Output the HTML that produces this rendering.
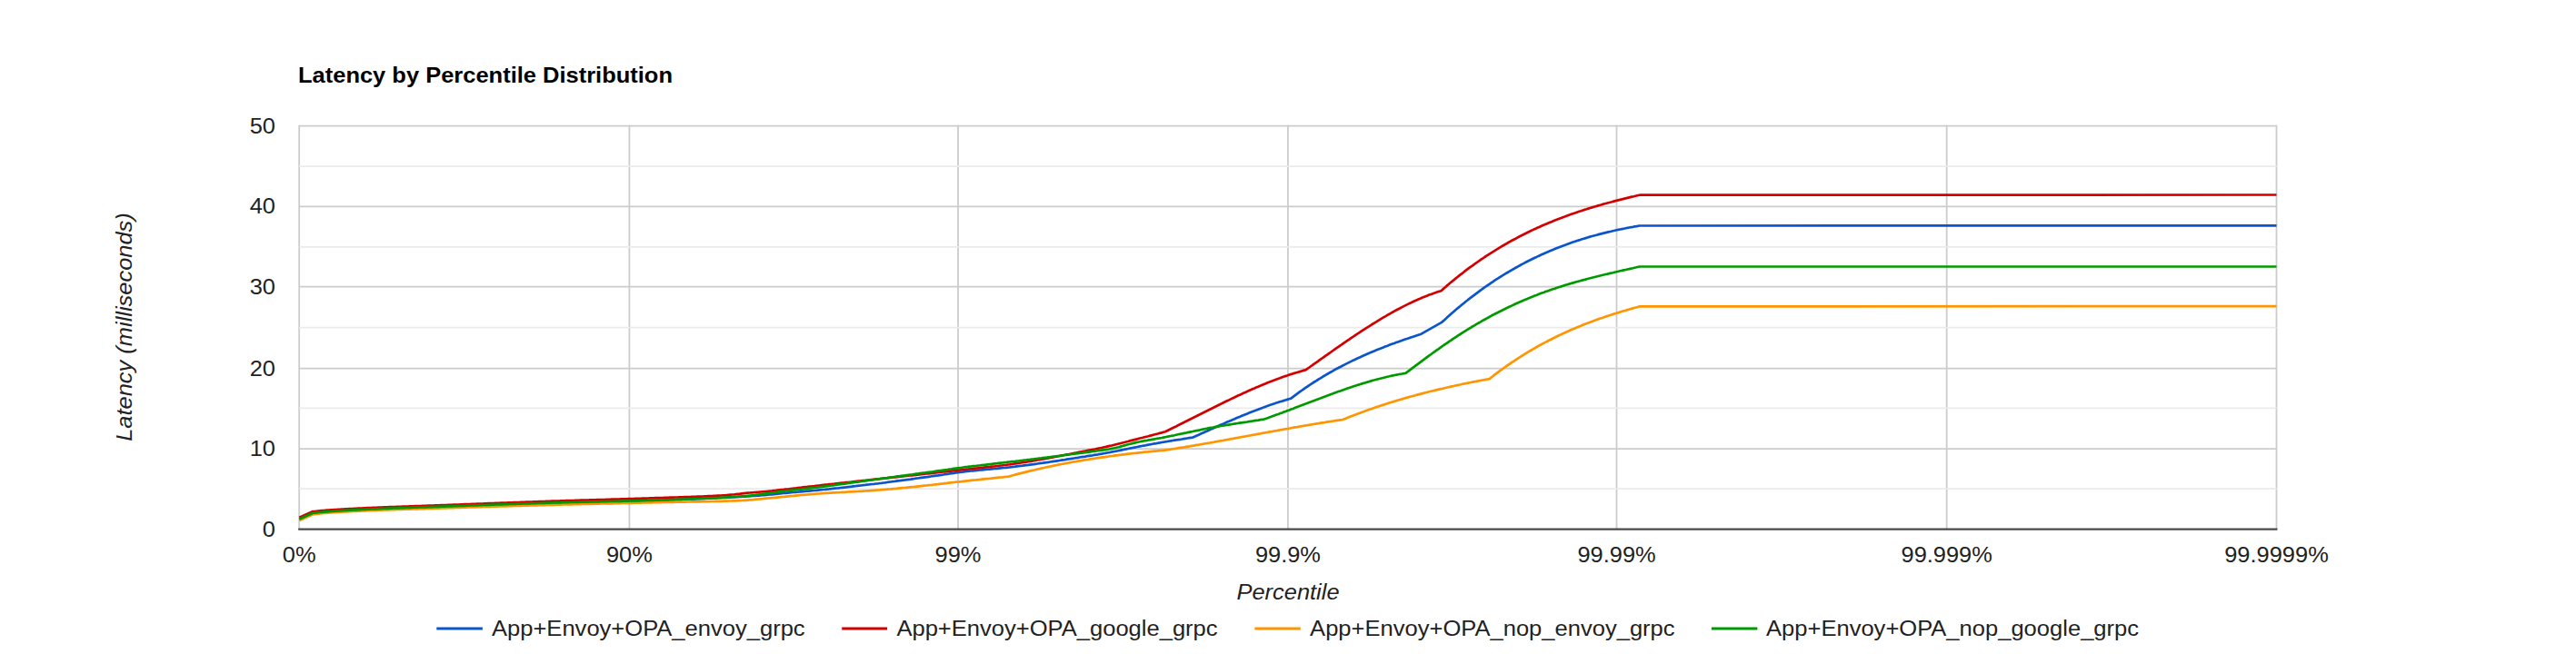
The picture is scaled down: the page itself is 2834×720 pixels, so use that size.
<!DOCTYPE html>
<html><head><meta charset="utf-8"><title>Latency by Percentile Distribution</title>
<style>html,body{margin:0;padding:0;background:#fff;width:2834px;height:720px;overflow:hidden}svg{display:block}</style>
</head><body>
<svg width="2834" height="720" viewBox="0 0 2834 720">
<rect x="0" y="0" width="2834" height="720" fill="#ffffff"/>
<line x1="329.17" y1="137.75" x2="329.17" y2="582.55" stroke="#cccccc" stroke-width="1.8"/>
<line x1="692.4" y1="137.75" x2="692.4" y2="582.55" stroke="#cccccc" stroke-width="1.8"/>
<line x1="1054.03" y1="137.75" x2="1054.03" y2="582.55" stroke="#cccccc" stroke-width="1.8"/>
<line x1="1416.95" y1="137.75" x2="1416.95" y2="582.55" stroke="#cccccc" stroke-width="1.8"/>
<line x1="1778.54" y1="137.75" x2="1778.54" y2="582.55" stroke="#cccccc" stroke-width="1.8"/>
<line x1="2141.7" y1="137.75" x2="2141.7" y2="582.55" stroke="#cccccc" stroke-width="1.8"/>
<line x1="2504.5" y1="137.75" x2="2504.5" y2="582.55" stroke="#cccccc" stroke-width="1.8"/>
<line x1="329.17" y1="538.16" x2="2504.5" y2="538.16" stroke="#ebebeb" stroke-width="1.8"/>
<line x1="329.17" y1="449.38" x2="2504.5" y2="449.38" stroke="#ebebeb" stroke-width="1.8"/>
<line x1="329.17" y1="360.60" x2="2504.5" y2="360.60" stroke="#ebebeb" stroke-width="1.8"/>
<line x1="329.17" y1="271.82" x2="2504.5" y2="271.82" stroke="#ebebeb" stroke-width="1.8"/>
<line x1="329.17" y1="183.04" x2="2504.5" y2="183.04" stroke="#ebebeb" stroke-width="1.8"/>
<line x1="329.17" y1="138.65" x2="2504.5" y2="138.65" stroke="#cccccc" stroke-width="1.8"/>
<line x1="329.17" y1="227.4" x2="2504.5" y2="227.4" stroke="#cccccc" stroke-width="1.8"/>
<line x1="329.17" y1="315.55" x2="2504.5" y2="315.55" stroke="#cccccc" stroke-width="1.8"/>
<line x1="329.17" y1="405.55" x2="2504.5" y2="405.55" stroke="#cccccc" stroke-width="1.8"/>
<line x1="329.17" y1="494.1" x2="2504.5" y2="494.1" stroke="#cccccc" stroke-width="1.8"/>
<line x1="328.17" y1="582.55" x2="2505.5" y2="582.55" stroke="#4a4a4a" stroke-width="2.2"/>
<polyline fill="none" stroke="#0a55cc" stroke-width="2.7" stroke-linejoin="round" points="329.3,571.4 343.7,564.9 345.8,564.7 347.8,564.4 349.9,564.2 351.9,564.0 353.9,563.8 356.0,563.6 358.0,563.4 360.0,563.3 362.0,563.1 364.0,563.0 366.0,562.8 368.0,562.7 370.0,562.6 372.0,562.4 374.0,562.3 376.0,562.2 378.0,562.1 380.0,561.9 382.0,561.8 384.0,561.7 386.0,561.6 388.0,561.5 390.0,561.4 392.0,561.3 394.0,561.2 396.0,561.1 398.0,561.0 400.0,560.9 402.0,560.8 404.0,560.7 406.0,560.6 408.1,560.5 410.1,560.4 412.1,560.3 414.1,560.3 416.2,560.2 418.2,560.1 420.2,560.0 422.2,559.9 424.3,559.8 426.3,559.8 428.3,559.7 430.3,559.6 432.4,559.5 434.4,559.5 436.4,559.4 438.4,559.3 440.5,559.2 442.5,559.2 444.5,559.1 446.5,559.0 448.6,559.0 450.6,558.9 452.6,558.8 454.6,558.7 456.7,558.7 458.7,558.6 460.7,558.5 462.7,558.5 464.8,558.4 466.8,558.3 468.8,558.3 470.8,558.2 472.9,558.1 474.9,558.1 476.9,558.0 478.9,557.9 481.0,557.8 483.0,557.8 485.0,557.7 487.0,557.6 489.0,557.6 491.0,557.5 493.0,557.4 495.0,557.3 497.0,557.3 499.0,557.2 501.0,557.1 503.0,557.1 505.0,557.0 507.0,556.9 509.0,556.8 511.0,556.8 513.0,556.7 515.0,556.6 517.0,556.5 519.0,556.5 521.0,556.4 523.0,556.3 525.0,556.3 527.0,556.2 529.0,556.1 531.0,556.0 533.0,556.0 535.0,555.9 537.0,555.8 539.0,555.8 541.0,555.7 543.0,555.6 545.0,555.5 547.0,555.5 549.0,555.4 551.0,555.3 553.0,555.3 555.0,555.2 557.0,555.1 559.0,555.1 561.0,555.0 563.0,554.9 565.0,554.9 567.0,554.8 569.0,554.7 571.0,554.7 573.0,554.6 575.0,554.5 577.0,554.5 579.0,554.4 581.0,554.3 583.0,554.3 585.0,554.2 587.0,554.1 589.0,554.1 591.0,554.0 593.0,554.0 595.0,553.9 597.0,553.8 599.0,553.8 601.0,553.7 603.0,553.7 605.0,553.6 607.0,553.5 609.0,553.5 611.0,553.4 613.0,553.4 615.0,553.3 617.0,553.3 619.0,553.2 621.0,553.2 623.0,553.1 625.0,553.1 627.0,553.0 629.0,553.0 631.0,552.9 633.0,552.9 635.0,552.8 637.0,552.8 639.0,552.7 641.0,552.7 643.0,552.6 645.0,552.6 647.0,552.5 649.0,552.5 651.0,552.4 653.0,552.4 655.0,552.3 657.0,552.3 659.0,552.3 661.0,552.2 663.0,552.2 665.0,552.1 667.0,552.1 669.0,552.0 671.0,552.0 673.0,551.9 675.0,551.9 677.0,551.8 679.0,551.8 681.0,551.8 683.0,551.7 685.0,551.7 687.0,551.6 689.0,551.6 691.0,551.5 693.0,551.5 695.0,551.4 697.0,551.4 699.0,551.3 701.0,551.3 703.0,551.2 705.0,551.2 707.0,551.1 709.0,551.1 711.0,551.0 713.0,550.9 715.0,550.9 717.0,550.8 719.0,550.8 721.0,550.7 723.0,550.7 725.0,550.6 727.0,550.5 729.1,550.5 731.1,550.4 733.1,550.3 735.2,550.3 737.2,550.2 739.2,550.2 741.2,550.1 743.3,550.0 745.3,549.9 747.3,549.9 749.4,549.8 751.4,549.7 753.4,549.7 755.5,549.6 757.5,549.5 759.5,549.4 761.6,549.4 763.6,549.3 765.6,549.2 767.7,549.1 769.7,549.1 771.7,549.0 773.8,548.9 775.8,548.8 777.8,548.7 779.8,548.6 781.9,548.6 783.9,548.5 785.9,548.4 788.0,548.3 790.0,548.2 792.1,548.1 794.3,548.0 796.4,547.9 798.5,547.8 800.6,547.7 802.8,547.6 804.9,547.5 807.0,547.4 809.2,547.2 811.3,547.1 813.4,547.0 815.5,546.9 817.7,546.7 819.8,546.6 821.9,546.5 824.0,546.3 826.1,546.2 828.2,546.0 830.3,545.9 832.4,545.7 834.5,545.6 836.6,545.4 838.7,545.2 840.8,545.1 842.9,544.9 845.0,544.7 847.2,544.5 849.3,544.3 851.5,544.1 853.6,543.9 855.8,543.7 857.9,543.5 860.1,543.2 862.2,543.0 864.4,542.8 866.5,542.6 868.7,542.4 870.8,542.2 872.9,542.0 875.0,541.8 877.0,541.7 879.1,541.5 881.2,541.3 883.3,541.1 885.4,540.9 887.5,540.7 889.6,540.6 891.7,540.4 893.7,540.2 895.8,540.0 897.9,539.8 900.0,539.6 902.1,539.4 904.1,539.2 906.2,539.0 908.2,538.8 910.3,538.6 912.3,538.4 914.4,538.1 916.5,537.9 918.5,537.7 920.6,537.5 922.6,537.3 924.7,537.0 926.8,536.8 928.8,536.6 930.9,536.4 932.9,536.1 935.0,535.9 937.0,535.7 939.1,535.4 941.2,535.2 943.2,534.9 945.3,534.7 947.3,534.5 949.4,534.2 951.5,534.0 953.5,533.7 955.6,533.5 957.6,533.2 959.7,533.0 961.7,532.8 963.8,532.5 965.8,532.3 967.8,532.0 969.8,531.8 971.8,531.5 973.8,531.3 975.8,531.0 977.8,530.7 979.8,530.5 981.8,530.2 983.9,530.0 985.9,529.7 987.9,529.4 989.9,529.2 991.9,528.9 993.9,528.6 995.9,528.4 997.9,528.1 999.9,527.8 1001.9,527.6 1003.9,527.3 1005.9,527.0 1007.9,526.7 1009.9,526.5 1011.9,526.2 1013.9,525.9 1015.9,525.6 1017.9,525.3 1019.9,525.1 1022.0,524.8 1024.0,524.5 1026.0,524.2 1028.0,523.9 1030.0,523.6 1032.0,523.4 1034.0,523.1 1036.0,522.8 1038.0,522.5 1040.0,522.2 1042.3,521.9 1044.6,521.5 1047.0,521.1 1049.3,520.8 1051.6,520.4 1053.9,520.1 1055.9,519.8 1058.0,519.6 1060.0,519.4 1062.0,519.1 1064.1,518.9 1066.1,518.7 1068.1,518.5 1070.2,518.3 1072.2,518.1 1074.2,517.9 1076.3,517.7 1078.3,517.5 1080.3,517.3 1082.4,517.1 1084.4,516.9 1086.4,516.7 1088.5,516.6 1090.5,516.4 1092.5,516.2 1094.6,516.0 1096.6,515.8 1098.6,515.6 1100.7,515.4 1102.7,515.2 1104.7,515.0 1106.8,514.8 1108.8,514.6 1110.8,514.4 1112.9,514.1 1114.9,513.9 1116.9,513.7 1119.0,513.4 1121.0,513.2 1123.0,512.9 1125.0,512.7 1127.1,512.4 1129.1,512.1 1131.1,511.9 1133.1,511.6 1135.2,511.3 1137.2,511.1 1139.2,510.8 1141.2,510.5 1143.3,510.2 1145.3,509.9 1147.3,509.7 1149.3,509.4 1151.4,509.1 1153.4,508.8 1155.4,508.5 1157.5,508.2 1159.5,507.9 1161.5,507.6 1163.5,507.3 1165.6,507.0 1167.6,506.7 1169.6,506.4 1171.6,506.1 1173.7,505.7 1175.7,505.4 1177.7,505.1 1179.7,504.8 1181.8,504.5 1183.8,504.2 1185.8,503.9 1187.8,503.5 1189.9,503.2 1191.9,502.9 1193.9,502.6 1195.9,502.2 1198.0,501.9 1200.0,501.6 1202.0,501.3 1204.0,500.9 1206.0,500.6 1208.0,500.3 1210.0,499.9 1212.1,499.6 1214.1,499.2 1216.1,498.9 1218.1,498.5 1220.1,498.2 1222.1,497.8 1224.1,497.4 1226.1,497.0 1228.1,496.7 1230.1,496.3 1232.1,495.9 1234.1,495.4 1236.1,495.0 1238.2,494.6 1240.2,494.2 1242.2,493.8 1244.2,493.4 1246.2,493.0 1248.2,492.6 1250.2,492.2 1252.2,491.8 1254.2,491.4 1256.2,491.0 1258.2,490.6 1260.2,490.3 1262.2,489.9 1264.2,489.5 1266.2,489.2 1268.2,488.8 1270.2,488.4 1272.2,488.1 1274.2,487.7 1276.2,487.4 1278.2,487.0 1280.2,486.7 1282.2,486.3 1284.2,486.0 1286.2,485.7 1288.2,485.3 1290.2,485.0 1292.2,484.7 1294.2,484.4 1296.2,484.1 1298.2,483.8 1300.2,483.5 1302.2,483.1 1304.2,482.8 1306.2,482.5 1308.2,482.2 1310.2,481.9 1312.2,481.6 1314.2,480.7 1316.2,479.8 1318.2,478.9 1320.2,478.0 1322.2,477.1 1324.2,476.2 1326.2,475.3 1328.2,474.4 1330.2,473.5 1332.2,472.6 1334.2,471.7 1336.2,470.8 1338.2,469.9 1340.2,469.0 1342.2,468.1 1344.2,467.2 1346.2,466.4 1348.2,465.5 1350.2,464.6 1352.2,463.8 1354.2,462.9 1356.2,462.0 1358.2,461.2 1360.2,460.3 1362.2,459.5 1364.2,458.7 1366.2,457.8 1368.2,457.0 1370.2,456.2 1372.2,455.4 1374.2,454.6 1376.2,453.8 1378.2,453.0 1380.2,452.2 1382.2,451.5 1384.2,450.7 1386.2,449.9 1388.2,449.2 1390.2,448.5 1392.2,447.7 1394.2,447.0 1396.2,446.3 1398.2,445.6 1400.2,444.9 1402.2,444.3 1404.2,443.6 1406.2,442.9 1408.2,442.3 1410.2,441.7 1412.2,441.1 1414.2,440.5 1416.2,439.9 1418.2,439.3 1419.9,438.8 1421.9,437.3 1423.9,435.8 1425.9,434.3 1427.9,432.8 1429.9,431.4 1431.9,430.0 1433.9,428.6 1435.9,427.2 1437.9,425.8 1439.9,424.5 1441.9,423.1 1443.9,421.8 1445.9,420.5 1447.9,419.3 1449.9,418.0 1451.9,416.8 1453.9,415.6 1455.9,414.3 1457.9,413.2 1459.9,412.0 1461.9,410.8 1463.9,409.7 1465.9,408.6 1467.9,407.4 1469.9,406.3 1471.9,405.3 1473.9,404.2 1475.9,403.2 1477.9,402.1 1479.9,401.1 1481.9,400.1 1483.9,399.1 1485.9,398.1 1487.9,397.1 1489.9,396.2 1491.9,395.2 1493.9,394.3 1495.9,393.4 1497.9,392.5 1499.9,391.6 1501.9,390.7 1503.9,389.8 1505.9,388.9 1507.9,388.1 1509.9,387.2 1511.9,386.4 1513.9,385.6 1515.9,384.8 1517.9,384.0 1519.9,383.2 1521.9,382.4 1523.9,381.6 1525.9,380.9 1527.9,380.1 1529.9,379.3 1531.9,378.6 1533.9,377.9 1535.9,377.1 1537.9,376.4 1539.9,375.7 1541.9,375.0 1543.9,374.3 1545.9,373.6 1547.9,372.9 1549.9,372.2 1551.9,371.6 1553.9,370.9 1555.9,370.2 1557.9,369.6 1559.9,368.9 1561.9,368.3 1563.6,367.7 1586.5,354.6 1588.5,352.7 1590.5,350.9 1592.5,349.1 1594.5,347.3 1596.5,345.5 1598.5,343.8 1600.5,342.0 1602.5,340.3 1604.5,338.6 1606.5,337.0 1608.5,335.3 1610.5,333.7 1612.5,332.0 1614.5,330.5 1616.5,328.9 1618.5,327.3 1620.5,325.8 1622.5,324.3 1624.5,322.8 1626.5,321.3 1628.5,319.8 1630.5,318.4 1632.5,316.9 1634.5,315.5 1636.5,314.1 1638.5,312.8 1640.5,311.4 1642.5,310.1 1644.5,308.7 1646.5,307.4 1648.5,306.2 1650.5,304.9 1652.5,303.6 1654.5,302.4 1656.5,301.2 1658.5,300.0 1660.5,298.8 1662.5,297.6 1664.5,296.5 1666.5,295.3 1668.5,294.2 1670.5,293.1 1672.5,292.0 1674.5,290.9 1676.5,289.9 1678.5,288.8 1680.5,287.8 1682.5,286.8 1684.5,285.8 1686.5,284.8 1688.5,283.8 1690.5,282.9 1692.5,281.9 1694.5,281.0 1696.5,280.1 1698.5,279.2 1700.5,278.3 1702.5,277.4 1704.5,276.6 1706.5,275.7 1708.5,274.9 1710.5,274.1 1712.5,273.3 1714.5,272.5 1716.5,271.7 1718.5,270.9 1720.5,270.2 1722.5,269.5 1724.5,268.7 1726.5,268.0 1728.5,267.3 1730.5,266.6 1732.5,265.9 1734.5,265.3 1736.5,264.6 1738.5,264.0 1740.5,263.3 1742.5,262.7 1744.5,262.1 1746.5,261.5 1748.5,260.9 1750.5,260.3 1752.5,259.8 1754.5,259.2 1756.5,258.7 1758.5,258.1 1760.5,257.6 1762.5,257.1 1764.5,256.6 1766.5,256.1 1768.5,255.6 1770.5,255.1 1772.5,254.7 1774.5,254.2 1776.5,253.8 1778.5,253.3 1780.5,252.9 1782.5,252.5 1784.5,252.1 1786.5,251.7 1788.5,251.3 1790.5,250.9 1792.5,250.5 1794.5,250.1 1796.5,249.8 1798.5,249.4 1800.5,249.1 1802.5,248.7 1803.8,248.5 2504.5,248.4"/>
<polyline fill="none" stroke="#d40000" stroke-width="2.7" stroke-linejoin="round" points="329.3,569.7 343.7,563.2 345.8,563.0 347.8,562.8 349.9,562.6 351.9,562.4 353.9,562.2 356.0,562.0 358.0,561.8 360.0,561.7 362.0,561.6 364.0,561.4 366.0,561.3 368.0,561.1 370.0,561.0 372.0,560.9 374.0,560.8 376.0,560.6 378.0,560.5 380.0,560.4 382.0,560.3 384.0,560.2 386.0,560.1 388.0,560.0 390.0,559.9 392.0,559.8 394.0,559.7 396.0,559.6 398.0,559.5 400.0,559.4 402.0,559.3 404.0,559.2 406.0,559.1 408.1,559.0 410.1,558.9 412.1,558.8 414.1,558.8 416.2,558.7 418.2,558.6 420.2,558.5 422.2,558.4 424.3,558.4 426.3,558.3 428.3,558.2 430.3,558.1 432.4,558.1 434.4,558.0 436.4,557.9 438.4,557.8 440.5,557.8 442.5,557.7 444.5,557.6 446.5,557.5 448.6,557.5 450.6,557.4 452.6,557.3 454.6,557.3 456.7,557.2 458.7,557.1 460.7,557.1 462.7,557.0 464.8,556.9 466.8,556.8 468.8,556.8 470.8,556.7 472.9,556.6 474.9,556.6 476.9,556.5 478.9,556.4 481.0,556.3 483.0,556.3 485.0,556.2 487.0,556.1 489.0,556.1 491.0,556.0 493.0,555.9 495.0,555.8 497.0,555.8 499.0,555.7 501.0,555.6 503.0,555.5 505.0,555.5 507.0,555.4 509.0,555.3 511.0,555.2 513.0,555.2 515.0,555.1 517.0,555.0 519.0,554.9 521.0,554.8 523.0,554.8 525.0,554.7 527.0,554.6 529.0,554.5 531.0,554.5 533.0,554.4 535.0,554.3 537.0,554.2 539.0,554.2 541.0,554.1 543.0,554.0 545.0,553.9 547.0,553.9 549.0,553.8 551.0,553.7 553.0,553.6 555.0,553.6 557.0,553.5 559.0,553.4 561.0,553.4 563.0,553.3 565.0,553.2 567.0,553.1 569.0,553.1 571.0,553.0 573.0,552.9 575.0,552.8 577.0,552.8 579.0,552.7 581.0,552.6 583.0,552.6 585.0,552.5 587.0,552.4 589.0,552.3 591.0,552.3 593.0,552.2 595.0,552.1 597.0,552.1 599.0,552.0 601.0,551.9 603.0,551.9 605.0,551.8 607.0,551.7 609.0,551.7 611.0,551.6 613.0,551.5 615.0,551.5 617.0,551.4 619.0,551.3 621.0,551.3 623.0,551.2 625.0,551.2 627.0,551.1 629.0,551.0 631.0,551.0 633.0,550.9 635.0,550.9 637.0,550.8 639.0,550.7 641.0,550.7 643.0,550.6 645.0,550.6 647.0,550.5 649.0,550.4 651.0,550.4 653.0,550.3 655.0,550.3 657.0,550.2 659.0,550.1 661.0,550.1 663.0,550.0 665.0,550.0 667.0,549.9 669.0,549.8 671.0,549.8 673.0,549.7 675.0,549.7 677.0,549.6 679.0,549.6 681.0,549.5 683.0,549.4 685.0,549.4 687.0,549.3 689.0,549.3 691.0,549.2 693.0,549.1 695.0,549.1 697.0,549.0 699.0,548.9 701.0,548.9 703.0,548.8 705.0,548.8 707.0,548.7 709.0,548.6 711.0,548.6 713.0,548.5 715.0,548.4 717.0,548.4 719.0,548.3 721.0,548.2 723.0,548.2 725.0,548.1 727.0,548.0 729.0,548.0 731.0,547.9 733.0,547.8 735.0,547.8 737.1,547.7 739.1,547.6 741.1,547.6 743.1,547.5 745.1,547.5 747.1,547.4 749.1,547.3 751.1,547.3 753.1,547.2 755.1,547.1 757.1,547.1 759.1,547.0 761.2,546.9 763.2,546.9 765.2,546.8 767.2,546.7 769.2,546.6 771.2,546.6 773.2,546.5 775.2,546.4 777.2,546.3 779.2,546.2 781.2,546.1 783.2,546.0 785.3,545.9 787.3,545.8 789.3,545.7 791.3,545.6 793.3,545.5 795.3,545.4 797.4,545.3 799.5,545.1 801.6,544.9 803.7,544.7 805.8,544.5 807.9,544.3 809.9,544.0 812.0,543.8 814.1,543.6 816.2,543.3 818.3,543.1 820.4,542.9 822.5,542.7 824.5,542.5 826.6,542.3 828.6,542.2 830.7,542.0 832.7,541.8 834.8,541.7 836.8,541.5 838.9,541.3 840.9,541.2 843.0,541.0 845.0,540.8 847.1,540.6 849.3,540.4 851.4,540.1 853.5,539.9 855.7,539.6 857.8,539.4 859.8,539.2 861.8,539.0 863.8,538.7 865.8,538.5 867.8,538.3 869.9,538.0 871.9,537.8 873.9,537.6 875.9,537.4 877.9,537.1 879.9,536.9 881.9,536.7 883.9,536.4 885.9,536.2 887.9,536.0 890.0,535.7 892.0,535.5 894.0,535.3 896.0,535.1 898.0,534.8 900.0,534.6 902.0,534.4 904.0,534.1 906.1,533.9 908.1,533.7 910.1,533.5 912.1,533.2 914.2,533.0 916.2,532.8 918.2,532.6 920.2,532.3 922.3,532.1 924.3,531.9 926.3,531.7 928.4,531.5 930.4,531.2 932.4,531.0 934.4,530.8 936.5,530.6 938.5,530.3 940.5,530.1 942.5,529.9 944.6,529.7 946.6,529.5 948.6,529.2 950.6,529.0 952.7,528.8 954.7,528.6 956.7,528.4 958.7,528.1 960.8,527.9 962.8,527.7 964.8,527.5 966.8,527.3 968.9,527.0 970.9,526.8 972.9,526.6 974.9,526.4 977.0,526.2 979.0,525.9 981.0,525.7 983.0,525.5 985.1,525.3 987.1,525.1 989.1,524.8 991.1,524.6 993.2,524.4 995.2,524.2 997.2,524.0 999.2,523.7 1001.3,523.5 1003.3,523.3 1005.3,523.1 1007.3,522.9 1009.4,522.6 1011.4,522.4 1013.4,522.2 1015.4,522.0 1017.5,521.7 1019.5,521.5 1021.5,521.3 1023.5,521.1 1025.6,520.9 1027.6,520.6 1029.6,520.4 1031.6,520.2 1033.7,520.0 1035.7,519.7 1037.7,519.5 1039.7,519.3 1041.8,519.1 1043.8,518.8 1045.8,518.6 1047.8,518.4 1049.9,518.2 1051.9,517.9 1053.9,517.7 1055.9,517.5 1058.0,517.2 1060.0,517.0 1062.0,516.8 1064.1,516.6 1066.1,516.4 1068.1,516.1 1070.2,515.9 1072.2,515.7 1074.2,515.5 1076.3,515.3 1078.3,515.1 1080.3,514.8 1082.4,514.6 1084.4,514.4 1086.4,514.2 1088.5,514.0 1090.5,513.7 1092.5,513.5 1094.6,513.3 1096.6,513.0 1098.6,512.8 1100.7,512.5 1102.7,512.3 1104.7,512.0 1106.8,511.8 1108.8,511.5 1110.8,511.3 1112.9,511.0 1114.9,510.7 1116.9,510.4 1119.0,510.1 1121.0,509.8 1123.0,509.5 1125.0,509.2 1127.1,508.9 1129.1,508.6 1131.1,508.2 1133.2,507.9 1135.2,507.6 1137.2,507.2 1139.3,506.9 1141.3,506.5 1143.3,506.2 1145.3,505.8 1147.4,505.4 1149.4,505.1 1151.4,504.7 1153.5,504.3 1155.5,503.9 1157.5,503.6 1159.6,503.2 1161.6,502.8 1163.6,502.4 1165.6,502.0 1167.7,501.6 1169.7,501.2 1171.7,500.8 1173.8,500.4 1175.8,500.1 1177.8,499.7 1179.9,499.3 1181.9,498.9 1183.9,498.5 1185.9,498.1 1188.0,497.7 1190.0,497.3 1192.1,496.9 1194.1,496.5 1196.2,496.1 1198.3,495.7 1200.3,495.3 1202.4,494.9 1204.5,494.5 1206.5,494.0 1208.6,493.6 1210.6,493.2 1212.7,492.8 1214.8,492.3 1216.8,491.9 1218.9,491.4 1220.9,490.9 1222.9,490.5 1224.9,490.0 1226.9,489.5 1228.9,489.0 1230.9,488.5 1232.9,488.0 1234.9,487.5 1236.9,487.0 1238.9,486.5 1240.9,486.0 1242.9,485.4 1244.9,484.9 1246.9,484.4 1248.9,483.9 1251.0,483.4 1253.0,482.8 1255.1,482.3 1257.2,481.8 1259.2,481.2 1261.3,480.7 1263.4,480.2 1265.5,479.6 1267.5,479.1 1269.6,478.5 1271.7,478.0 1273.7,477.5 1275.8,476.9 1277.9,476.4 1279.9,475.8 1282.0,475.3 1284.0,474.3 1286.0,473.3 1288.0,472.3 1290.0,471.3 1292.0,470.3 1294.0,469.4 1296.0,468.3 1298.0,467.3 1300.0,466.3 1302.0,465.3 1304.0,464.3 1306.0,463.3 1308.0,462.3 1310.0,461.3 1312.0,460.3 1314.0,459.3 1316.0,458.3 1318.0,457.2 1320.0,456.2 1322.0,455.2 1324.0,454.2 1326.0,453.2 1328.0,452.2 1330.0,451.2 1332.0,450.2 1334.0,449.2 1336.0,448.2 1338.0,447.2 1340.0,446.2 1342.0,445.2 1344.0,444.3 1346.0,443.3 1348.0,442.3 1350.0,441.3 1352.0,440.4 1354.0,439.4 1356.0,438.4 1358.0,437.5 1360.0,436.5 1362.0,435.6 1364.0,434.7 1366.0,433.8 1368.0,432.8 1370.0,431.9 1372.0,431.0 1374.0,430.1 1376.0,429.2 1378.0,428.3 1380.0,427.5 1382.0,426.6 1384.0,425.8 1386.0,424.9 1388.0,424.1 1390.0,423.2 1392.0,422.4 1394.0,421.6 1396.0,420.8 1398.0,420.0 1400.0,419.3 1402.0,418.5 1404.0,417.7 1406.0,417.0 1408.0,416.3 1410.0,415.5 1412.0,414.8 1414.0,414.1 1416.0,413.5 1418.0,412.8 1420.0,412.1 1422.0,411.5 1424.0,410.9 1426.0,410.3 1428.0,409.7 1430.0,409.1 1432.0,408.5 1434.0,407.9 1436.0,407.4 1436.4,407.3 1438.4,405.9 1440.4,404.5 1442.4,403.0 1444.4,401.6 1446.4,400.2 1448.4,398.8 1450.4,397.4 1452.4,395.9 1454.4,394.5 1456.4,393.1 1458.4,391.7 1460.4,390.3 1462.4,388.9 1464.4,387.5 1466.4,386.0 1468.4,384.6 1470.4,383.2 1472.4,381.8 1474.4,380.5 1476.4,379.1 1478.4,377.7 1480.4,376.3 1482.4,374.9 1484.4,373.6 1486.4,372.2 1488.4,370.9 1490.4,369.5 1492.4,368.2 1494.4,366.9 1496.4,365.5 1498.4,364.2 1500.4,362.9 1502.4,361.6 1504.4,360.3 1506.4,359.1 1508.4,357.8 1510.4,356.5 1512.4,355.3 1514.4,354.1 1516.4,352.8 1518.4,351.6 1520.4,350.4 1522.4,349.2 1524.4,348.1 1526.4,346.9 1528.4,345.8 1530.4,344.6 1532.4,343.5 1534.4,342.4 1536.4,341.3 1538.4,340.2 1540.4,339.2 1542.4,338.1 1544.4,337.1 1546.4,336.1 1548.4,335.1 1550.4,334.1 1552.4,333.2 1554.4,332.2 1556.4,331.3 1558.4,330.4 1560.4,329.5 1562.4,328.7 1564.4,327.8 1566.4,327.0 1568.4,326.2 1570.4,325.4 1572.4,324.6 1574.4,323.9 1576.4,323.2 1578.4,322.5 1580.4,321.8 1582.4,321.1 1584.4,320.5 1585.4,320.2 1587.4,318.4 1589.4,316.7 1591.4,314.9 1593.4,313.2 1595.4,311.5 1597.4,309.9 1599.4,308.2 1601.4,306.6 1603.4,305.0 1605.4,303.4 1607.4,301.8 1609.4,300.3 1611.4,298.7 1613.4,297.2 1615.4,295.7 1617.4,294.2 1619.4,292.8 1621.4,291.3 1623.4,289.9 1625.4,288.5 1627.4,287.1 1629.4,285.7 1631.4,284.4 1633.4,283.0 1635.4,281.7 1637.4,280.4 1639.4,279.1 1641.4,277.8 1643.4,276.6 1645.4,275.3 1647.4,274.1 1649.4,272.9 1651.4,271.7 1653.4,270.5 1655.4,269.3 1657.4,268.2 1659.4,267.0 1661.4,265.9 1663.4,264.8 1665.4,263.7 1667.4,262.7 1669.4,261.6 1671.4,260.5 1673.4,259.5 1675.4,258.5 1677.4,257.5 1679.4,256.5 1681.4,255.5 1683.4,254.5 1685.4,253.6 1687.4,252.6 1689.4,251.7 1691.4,250.8 1693.4,249.9 1695.4,249.0 1697.4,248.1 1699.4,247.3 1701.4,246.4 1703.4,245.6 1705.4,244.7 1707.4,243.9 1709.4,243.1 1711.4,242.3 1713.4,241.5 1715.4,240.7 1717.4,240.0 1719.4,239.2 1721.4,238.5 1723.4,237.7 1725.4,237.0 1727.4,236.3 1729.4,235.6 1731.4,234.9 1733.4,234.2 1735.4,233.5 1737.4,232.8 1739.4,232.2 1741.4,231.5 1743.4,230.9 1745.4,230.3 1747.4,229.6 1749.4,229.0 1751.4,228.4 1753.4,227.8 1755.4,227.2 1757.4,226.6 1759.4,226.0 1761.4,225.5 1763.4,224.9 1765.4,224.3 1767.4,223.8 1769.4,223.2 1771.4,222.7 1773.4,222.2 1775.4,221.6 1777.4,221.1 1779.4,220.6 1781.4,220.1 1783.4,219.6 1785.4,219.1 1787.4,218.6 1789.4,218.1 1791.4,217.6 1793.4,217.1 1795.4,216.6 1797.4,216.2 1799.4,215.7 1801.4,215.2 1803.4,214.8 1803.8,214.7 2504.5,214.5"/>
<polyline fill="none" stroke="#ff9500" stroke-width="2.7" stroke-linejoin="round" points="329.3,573.0 343.7,566.4 345.8,566.2 347.8,565.9 349.9,565.7 351.9,565.4 353.9,565.2 356.0,565.0 358.0,564.8 360.0,564.7 362.0,564.5 364.0,564.4 366.0,564.2 368.0,564.1 370.0,564.0 372.0,563.8 374.0,563.7 376.0,563.6 378.0,563.5 380.0,563.4 382.0,563.3 384.0,563.2 386.0,563.1 388.0,563.0 390.0,562.9 392.0,562.8 394.0,562.7 396.0,562.6 398.0,562.5 400.0,562.4 402.0,562.3 404.0,562.2 406.0,562.1 408.1,562.0 410.1,562.0 412.1,561.9 414.1,561.8 416.2,561.7 418.2,561.6 420.2,561.6 422.2,561.5 424.3,561.4 426.3,561.3 428.3,561.3 430.3,561.2 432.4,561.1 434.4,561.1 436.4,561.0 438.4,560.9 440.5,560.9 442.5,560.8 444.5,560.7 446.5,560.7 448.6,560.6 450.6,560.6 452.6,560.5 454.6,560.4 456.7,560.4 458.7,560.3 460.7,560.2 462.7,560.2 464.8,560.1 466.8,560.1 468.8,560.0 470.8,559.9 472.9,559.9 474.9,559.8 476.9,559.8 478.9,559.7 481.0,559.6 483.0,559.6 485.0,559.5 487.0,559.4 489.0,559.4 491.0,559.3 493.0,559.2 495.0,559.2 497.0,559.1 499.0,559.1 501.0,559.0 503.0,558.9 505.0,558.9 507.0,558.8 509.0,558.7 511.0,558.7 513.0,558.6 515.0,558.5 517.0,558.5 519.0,558.4 521.0,558.4 523.0,558.3 525.0,558.2 527.0,558.2 529.0,558.1 531.0,558.0 533.0,558.0 535.0,557.9 537.0,557.9 539.0,557.8 541.0,557.7 543.0,557.7 545.0,557.6 547.0,557.6 549.0,557.5 551.0,557.4 553.0,557.4 555.0,557.3 557.0,557.3 559.0,557.2 561.0,557.1 563.0,557.1 565.0,557.0 567.0,557.0 569.0,556.9 571.0,556.8 573.0,556.8 575.0,556.7 577.0,556.7 579.0,556.6 581.0,556.6 583.0,556.5 585.0,556.4 587.0,556.4 589.0,556.3 591.0,556.3 593.0,556.2 595.0,556.2 597.0,556.1 599.0,556.1 601.0,556.0 603.0,556.0 605.0,555.9 607.0,555.8 609.0,555.8 611.0,555.7 613.0,555.7 615.0,555.6 617.0,555.6 619.0,555.5 621.0,555.5 623.0,555.4 625.0,555.4 627.0,555.3 629.0,555.3 631.0,555.2 633.0,555.2 635.0,555.1 637.0,555.1 639.0,555.1 641.0,555.0 643.0,555.0 645.0,554.9 647.0,554.9 649.0,554.8 651.0,554.8 653.0,554.7 655.0,554.7 657.0,554.6 659.0,554.6 661.0,554.5 663.0,554.5 665.0,554.4 667.0,554.4 669.0,554.4 671.0,554.3 673.0,554.3 675.0,554.2 677.0,554.2 679.0,554.1 681.0,554.1 683.0,554.0 685.0,554.0 687.0,554.0 689.0,553.9 691.0,553.9 693.0,553.8 695.0,553.8 697.0,553.7 699.0,553.7 701.0,553.6 703.0,553.6 705.0,553.6 707.0,553.5 709.0,553.5 711.0,553.4 713.0,553.4 715.0,553.3 717.0,553.3 719.0,553.2 721.0,553.2 723.0,553.1 725.0,553.1 727.0,553.1 729.1,553.0 731.1,553.0 733.1,552.9 735.1,552.9 737.2,552.8 739.2,552.8 741.2,552.8 743.3,552.7 745.3,552.7 747.3,552.7 749.4,552.6 751.4,552.6 753.4,552.6 755.4,552.5 757.5,552.5 759.5,552.5 761.5,552.4 763.6,552.4 765.6,552.4 767.6,552.3 769.6,552.3 771.7,552.2 773.7,552.2 775.7,552.2 777.8,552.1 779.8,552.1 781.8,552.0 783.9,552.0 785.9,552.0 787.9,551.9 789.9,551.9 792.0,551.8 794.0,551.8 796.0,551.7 798.1,551.6 800.1,551.6 802.1,551.5 804.2,551.5 806.2,551.4 808.2,551.3 810.2,551.3 812.3,551.2 814.3,551.1 816.3,551.0 818.4,550.9 820.4,550.8 822.5,550.6 824.5,550.4 826.6,550.3 828.6,550.1 830.7,549.9 832.7,549.7 834.8,549.5 836.8,549.3 838.9,549.1 840.9,548.9 843.0,548.7 845.0,548.5 847.0,548.3 849.1,548.1 851.1,548.0 853.1,547.8 855.2,547.6 857.2,547.4 859.3,547.2 861.3,547.0 863.3,546.8 865.4,546.6 867.4,546.4 869.4,546.2 871.5,546.0 873.5,545.8 875.6,545.6 877.6,545.4 879.6,545.2 881.7,545.0 883.7,544.8 885.7,544.7 887.8,544.5 889.8,544.3 891.9,544.1 893.9,544.0 895.9,543.8 898.0,543.7 900.0,543.5 902.1,543.4 904.1,543.2 906.2,543.1 908.2,542.9 910.3,542.8 912.3,542.7 914.4,542.6 916.5,542.4 918.5,542.3 920.6,542.2 922.6,542.1 924.7,542.0 926.8,541.9 928.8,541.8 930.9,541.7 932.9,541.5 935.0,541.4 937.0,541.3 939.1,541.2 941.2,541.1 943.2,541.0 945.3,540.9 947.3,540.8 949.4,540.6 951.5,540.5 953.5,540.4 955.6,540.3 957.6,540.1 959.7,540.0 961.7,539.8 963.8,539.7 965.9,539.5 967.9,539.4 970.0,539.2 972.0,539.1 974.1,538.9 976.2,538.7 978.2,538.5 980.3,538.4 982.3,538.2 984.4,538.0 986.5,537.8 988.5,537.6 990.6,537.4 992.6,537.2 994.7,537.0 996.8,536.8 998.8,536.6 1000.9,536.4 1002.9,536.2 1005.0,536.0 1007.0,535.8 1009.1,535.6 1011.1,535.4 1013.1,535.2 1015.2,534.9 1017.2,534.7 1019.3,534.5 1021.3,534.2 1023.3,534.0 1025.4,533.8 1027.4,533.5 1029.5,533.3 1031.5,533.1 1033.5,532.8 1035.6,532.6 1037.6,532.4 1039.6,532.1 1041.7,531.9 1043.7,531.6 1045.8,531.4 1047.8,531.2 1049.8,531.0 1051.9,530.7 1053.9,530.5 1056.0,530.3 1058.0,530.1 1060.1,529.8 1062.2,529.6 1064.2,529.4 1066.3,529.2 1068.3,528.9 1070.4,528.7 1072.5,528.5 1074.5,528.3 1076.6,528.1 1078.7,527.9 1080.7,527.6 1082.8,527.4 1084.8,527.2 1086.9,527.0 1089.0,526.8 1091.0,526.6 1093.1,526.3 1095.2,526.1 1097.2,525.9 1099.3,525.7 1101.3,525.5 1103.4,525.3 1105.5,525.0 1107.5,524.8 1109.6,524.6 1111.6,524.1 1113.6,523.5 1115.6,523.0 1117.6,522.4 1119.6,521.9 1121.6,521.4 1123.6,520.9 1125.6,520.4 1127.6,519.9 1129.6,519.4 1131.6,518.9 1133.6,518.4 1135.6,517.9 1137.6,517.5 1139.6,517.0 1141.6,516.5 1143.6,516.1 1145.6,515.6 1147.6,515.2 1149.6,514.8 1151.6,514.3 1153.6,513.9 1155.6,513.5 1157.6,513.1 1159.6,512.6 1161.6,512.2 1163.6,511.8 1165.6,511.4 1167.6,511.0 1169.6,510.7 1171.6,510.3 1173.6,509.9 1175.6,509.5 1177.6,509.2 1179.6,508.8 1181.6,508.4 1183.6,508.1 1185.6,507.7 1187.6,507.4 1189.6,507.1 1191.6,506.7 1193.6,506.4 1195.6,506.1 1197.6,505.8 1199.6,505.4 1201.6,505.1 1203.6,504.8 1205.6,504.5 1207.6,504.2 1209.6,503.9 1211.6,503.6 1213.6,503.3 1215.6,503.1 1217.6,502.8 1219.6,502.5 1221.6,502.2 1223.6,502.0 1225.6,501.7 1227.6,501.4 1229.6,501.2 1231.6,500.9 1233.6,500.7 1235.6,500.4 1237.6,500.2 1239.6,499.9 1241.6,499.7 1243.6,499.5 1245.6,499.2 1247.6,499.0 1249.6,498.8 1251.6,498.6 1253.6,498.4 1255.6,498.2 1257.6,497.9 1259.6,497.7 1261.6,497.5 1263.6,497.3 1265.6,497.1 1267.6,496.9 1269.6,496.7 1271.6,496.6 1273.6,496.4 1275.6,496.2 1277.6,496.0 1279.6,495.8 1281.0,495.7 1283.0,495.4 1285.0,495.1 1287.0,494.8 1289.0,494.5 1291.0,494.2 1293.0,493.9 1295.0,493.5 1297.0,493.2 1299.0,492.9 1301.0,492.6 1303.0,492.3 1305.0,491.9 1307.0,491.6 1309.0,491.3 1311.0,490.9 1313.0,490.6 1315.0,490.2 1317.0,489.9 1319.0,489.6 1321.0,489.2 1323.0,488.9 1325.0,488.5 1327.0,488.2 1329.0,487.8 1331.0,487.5 1333.0,487.1 1335.0,486.8 1337.0,486.4 1339.0,486.0 1341.0,485.7 1343.0,485.3 1345.0,485.0 1347.0,484.6 1349.0,484.2 1351.0,483.9 1353.0,483.5 1355.0,483.1 1357.0,482.8 1359.0,482.4 1361.0,482.0 1363.0,481.7 1365.0,481.3 1367.0,480.9 1369.0,480.6 1371.0,480.2 1373.0,479.8 1375.0,479.5 1377.0,479.1 1379.0,478.7 1381.0,478.4 1383.0,478.0 1385.0,477.6 1387.0,477.3 1389.0,476.9 1391.0,476.5 1393.0,476.2 1395.0,475.8 1397.0,475.4 1399.0,475.1 1401.0,474.7 1403.0,474.3 1405.0,474.0 1407.0,473.6 1409.0,473.2 1411.0,472.9 1413.0,472.5 1415.0,472.2 1417.0,471.8 1419.0,471.5 1421.0,471.1 1423.0,470.7 1425.0,470.4 1427.0,470.1 1429.0,469.7 1431.0,469.4 1433.0,469.0 1435.0,468.7 1437.0,468.3 1439.0,468.0 1441.0,467.7 1443.0,467.3 1445.0,467.0 1447.0,466.7 1449.0,466.3 1451.0,466.0 1453.0,465.7 1455.0,465.4 1457.0,465.1 1459.0,464.7 1461.0,464.4 1463.0,464.1 1465.0,463.8 1467.0,463.5 1469.0,463.2 1471.0,462.9 1473.0,462.6 1475.0,462.3 1477.0,462.0 1477.2,462.0 1479.2,461.2 1481.2,460.4 1483.2,459.6 1485.2,458.8 1487.2,458.0 1489.2,457.2 1491.2,456.5 1493.2,455.7 1495.2,455.0 1497.2,454.2 1499.2,453.5 1501.2,452.7 1503.2,452.0 1505.2,451.3 1507.2,450.6 1509.2,449.9 1511.2,449.2 1513.2,448.5 1515.2,447.9 1517.2,447.2 1519.2,446.5 1521.2,445.9 1523.2,445.2 1525.2,444.6 1527.2,443.9 1529.2,443.3 1531.2,442.7 1533.2,442.1 1535.2,441.5 1537.2,440.9 1539.2,440.3 1541.2,439.7 1543.2,439.1 1545.2,438.5 1547.2,437.9 1549.2,437.4 1551.2,436.8 1553.2,436.3 1555.2,435.7 1557.2,435.2 1559.2,434.6 1561.2,434.1 1563.2,433.6 1565.2,433.1 1567.2,432.5 1569.2,432.0 1571.2,431.5 1573.2,431.0 1575.2,430.5 1577.2,430.0 1579.2,429.6 1581.2,429.1 1583.2,428.6 1585.2,428.1 1587.2,427.7 1589.2,427.2 1591.2,426.8 1593.2,426.3 1595.2,425.9 1597.2,425.4 1599.2,425.0 1601.2,424.5 1603.2,424.1 1605.2,423.7 1607.2,423.3 1609.2,422.8 1611.2,422.4 1613.2,422.0 1615.2,421.6 1617.2,421.2 1619.2,420.8 1621.2,420.4 1623.2,420.0 1625.2,419.6 1627.2,419.2 1629.2,418.9 1631.2,418.5 1633.2,418.1 1635.2,417.7 1637.2,417.4 1638.6,417.1 1640.6,415.5 1642.6,414.0 1644.6,412.4 1646.6,410.9 1648.6,409.4 1650.6,407.9 1652.6,406.5 1654.6,405.0 1656.6,403.6 1658.6,402.2 1660.6,400.8 1662.6,399.4 1664.6,398.1 1666.6,396.8 1668.6,395.4 1670.6,394.1 1672.6,392.9 1674.6,391.6 1676.6,390.3 1678.6,389.1 1680.6,387.9 1682.6,386.7 1684.6,385.5 1686.6,384.3 1688.6,383.2 1690.6,382.0 1692.6,380.9 1694.6,379.8 1696.6,378.7 1698.6,377.6 1700.6,376.6 1702.6,375.5 1704.6,374.5 1706.6,373.5 1708.6,372.5 1710.6,371.5 1712.6,370.5 1714.6,369.5 1716.6,368.6 1718.6,367.6 1720.6,366.7 1722.6,365.8 1724.6,364.9 1726.6,364.0 1728.6,363.1 1730.6,362.2 1732.6,361.4 1734.6,360.6 1736.6,359.7 1738.6,358.9 1740.6,358.1 1742.6,357.3 1744.6,356.5 1746.6,355.7 1748.6,355.0 1750.6,354.2 1752.6,353.5 1754.6,352.7 1756.6,352.0 1758.6,351.3 1760.6,350.6 1762.6,349.9 1764.6,349.2 1766.6,348.5 1768.6,347.9 1770.6,347.2 1772.6,346.6 1774.6,345.9 1776.6,345.3 1778.6,344.7 1780.6,344.1 1782.6,343.4 1784.6,342.8 1786.6,342.2 1788.6,341.7 1790.6,341.1 1792.6,340.5 1794.6,339.9 1796.6,339.4 1798.6,338.8 1800.6,338.3 1802.6,337.7 1803.8,337.4 2504.5,337.1"/>
<polyline fill="none" stroke="#009a00" stroke-width="2.7" stroke-linejoin="round" points="329.3,571.4 343.7,564.9 345.8,564.7 347.8,564.4 349.9,564.2 351.9,564.0 353.9,563.8 356.0,563.6 358.0,563.4 360.0,563.3 362.0,563.1 364.0,563.0 366.0,562.8 368.0,562.7 370.0,562.6 372.0,562.4 374.0,562.3 376.0,562.2 378.0,562.1 380.0,561.9 382.0,561.8 384.0,561.7 386.0,561.6 388.0,561.5 390.0,561.4 392.0,561.3 394.0,561.2 396.0,561.1 398.0,561.0 400.0,560.9 402.0,560.8 404.0,560.7 406.0,560.6 408.1,560.5 410.1,560.4 412.1,560.3 414.1,560.3 416.2,560.2 418.2,560.1 420.2,560.0 422.2,559.9 424.3,559.8 426.3,559.8 428.3,559.7 430.3,559.6 432.4,559.5 434.4,559.5 436.4,559.4 438.4,559.3 440.5,559.2 442.5,559.2 444.5,559.1 446.5,559.0 448.6,559.0 450.6,558.9 452.6,558.8 454.6,558.7 456.7,558.7 458.7,558.6 460.7,558.5 462.7,558.5 464.8,558.4 466.8,558.3 468.8,558.3 470.8,558.2 472.9,558.1 474.9,558.1 476.9,558.0 478.9,557.9 481.0,557.8 483.0,557.8 485.0,557.7 487.0,557.6 489.0,557.6 491.0,557.5 493.0,557.4 495.0,557.3 497.0,557.3 499.0,557.2 501.0,557.1 503.0,557.1 505.0,557.0 507.0,556.9 509.0,556.8 511.0,556.8 513.0,556.7 515.0,556.6 517.0,556.5 519.0,556.5 521.0,556.4 523.0,556.3 525.0,556.3 527.0,556.2 529.0,556.1 531.0,556.0 533.0,556.0 535.0,555.9 537.0,555.8 539.0,555.8 541.0,555.7 543.0,555.6 545.0,555.5 547.0,555.5 549.0,555.4 551.0,555.3 553.0,555.3 555.0,555.2 557.0,555.1 559.0,555.1 561.0,555.0 563.0,554.9 565.0,554.9 567.0,554.8 569.0,554.7 571.0,554.7 573.0,554.6 575.0,554.5 577.0,554.5 579.0,554.4 581.0,554.3 583.0,554.3 585.0,554.2 587.0,554.1 589.0,554.1 591.0,554.0 593.0,554.0 595.0,553.9 597.0,553.8 599.0,553.8 601.0,553.7 603.0,553.7 605.0,553.6 607.0,553.5 609.0,553.5 611.0,553.4 613.0,553.4 615.0,553.3 617.0,553.3 619.0,553.2 621.0,553.2 623.0,553.1 625.0,553.1 627.0,553.0 629.0,553.0 631.0,552.9 633.0,552.9 635.0,552.8 637.0,552.8 639.0,552.7 641.0,552.7 643.0,552.6 645.0,552.6 647.0,552.6 649.0,552.5 651.0,552.5 653.0,552.4 655.0,552.4 657.0,552.3 659.0,552.3 661.0,552.2 663.0,552.2 665.0,552.2 667.0,552.1 669.0,552.1 671.0,552.0 673.0,552.0 675.0,551.9 677.0,551.9 679.0,551.8 681.0,551.8 683.0,551.8 685.0,551.7 687.0,551.7 689.0,551.6 691.0,551.6 693.0,551.5 695.0,551.5 697.0,551.4 699.0,551.4 701.0,551.3 703.0,551.3 705.0,551.2 707.0,551.1 709.0,551.1 711.0,551.0 713.0,551.0 715.0,550.9 717.0,550.9 719.0,550.8 721.0,550.7 723.0,550.7 725.0,550.6 727.0,550.5 729.1,550.5 731.1,550.4 733.1,550.3 735.1,550.3 737.2,550.2 739.2,550.1 741.2,550.1 743.3,550.0 745.3,549.9 747.3,549.8 749.4,549.8 751.4,549.7 753.4,549.6 755.4,549.5 757.5,549.5 759.5,549.4 761.5,549.3 763.6,549.2 765.6,549.1 767.6,549.0 769.6,549.0 771.7,548.9 773.7,548.8 775.7,548.7 777.8,548.6 779.8,548.5 781.8,548.4 783.9,548.3 785.9,548.2 787.9,548.1 789.9,548.0 792.0,547.9 794.0,547.8 796.0,547.7 798.1,547.5 800.1,547.4 802.1,547.3 804.2,547.2 806.2,547.0 808.2,546.9 810.2,546.8 812.3,546.6 814.3,546.5 816.3,546.3 818.4,546.2 820.4,546.0 822.5,545.8 824.5,545.6 826.6,545.4 828.6,545.1 830.7,544.9 832.7,544.6 834.8,544.4 836.8,544.1 838.9,543.9 840.9,543.6 843.0,543.3 845.0,543.1 847.2,542.8 849.3,542.6 851.5,542.3 853.6,542.0 855.8,541.7 857.9,541.4 860.1,541.1 862.2,540.8 864.4,540.5 866.5,540.3 868.7,540.0 870.8,539.7 872.9,539.5 875.0,539.3 877.0,539.0 879.1,538.8 881.2,538.6 883.3,538.3 885.4,538.1 887.5,537.9 889.6,537.6 891.7,537.4 893.7,537.1 895.8,536.9 897.9,536.7 900.0,536.4 902.1,536.1 904.1,535.9 906.2,535.6 908.2,535.4 910.3,535.1 912.3,534.8 914.4,534.5 916.5,534.3 918.5,534.0 920.6,533.7 922.6,533.4 924.7,533.2 926.8,532.9 928.8,532.6 930.9,532.3 932.9,532.0 935.0,531.7 937.0,531.4 939.1,531.1 941.2,530.9 943.2,530.6 945.3,530.3 947.3,530.0 949.4,529.7 951.5,529.4 953.5,529.1 955.6,528.8 957.6,528.5 959.7,528.3 961.7,528.0 963.8,527.7 965.8,527.4 967.8,527.2 969.8,526.9 971.8,526.6 973.8,526.3 975.8,526.1 977.8,525.8 979.8,525.5 981.8,525.3 983.9,525.0 985.9,524.7 987.9,524.4 989.9,524.2 991.9,523.9 993.9,523.6 995.9,523.4 997.9,523.1 999.9,522.8 1001.9,522.5 1003.9,522.3 1005.9,522.0 1007.9,521.7 1009.9,521.5 1011.9,521.2 1013.9,520.9 1015.9,520.6 1017.9,520.4 1019.9,520.1 1022.0,519.8 1024.0,519.5 1026.0,519.3 1028.0,519.0 1030.0,518.7 1032.0,518.4 1034.0,518.1 1036.0,517.9 1038.0,517.6 1040.0,517.3 1042.3,517.0 1044.6,516.6 1047.0,516.3 1049.3,515.9 1051.6,515.6 1053.9,515.3 1055.9,515.0 1058.0,514.8 1060.0,514.5 1062.0,514.2 1064.1,514.0 1066.1,513.7 1068.2,513.5 1070.2,513.2 1072.2,513.0 1074.3,512.8 1076.3,512.5 1078.3,512.3 1080.4,512.0 1082.4,511.8 1084.5,511.6 1086.5,511.3 1088.5,511.1 1090.6,510.9 1092.6,510.6 1094.6,510.4 1096.7,510.2 1098.7,509.9 1100.7,509.7 1102.8,509.5 1104.8,509.2 1106.9,509.0 1108.9,508.7 1110.9,508.5 1113.0,508.2 1115.0,508.0 1117.0,507.8 1119.0,507.5 1121.1,507.3 1123.1,507.0 1125.1,506.8 1127.1,506.5 1129.2,506.3 1131.2,506.0 1133.2,505.8 1135.2,505.5 1137.3,505.3 1139.3,505.0 1141.3,504.8 1143.3,504.5 1145.4,504.3 1147.4,504.0 1149.4,503.8 1151.4,503.6 1153.5,503.3 1155.5,503.1 1157.5,502.8 1159.5,502.5 1161.5,502.3 1163.6,502.0 1165.6,501.8 1167.6,501.5 1169.6,501.3 1171.7,501.0 1173.7,500.8 1175.7,500.5 1177.7,500.2 1179.8,500.0 1181.8,499.7 1183.8,499.5 1185.8,499.2 1187.9,498.9 1189.9,498.7 1191.9,498.4 1193.9,498.1 1196.0,497.8 1198.0,497.6 1200.0,497.3 1202.0,497.0 1204.0,496.8 1206.0,496.5 1208.0,496.2 1210.0,496.0 1212.1,495.7 1214.1,495.4 1216.1,495.1 1218.1,494.8 1220.1,494.5 1222.1,494.1 1224.2,493.7 1226.4,493.2 1228.5,492.7 1230.7,492.2 1232.8,491.6 1235.0,491.0 1237.1,490.4 1239.3,489.8 1241.4,489.2 1243.6,488.7 1245.7,488.1 1247.9,487.6 1250.0,487.1 1252.0,486.7 1254.0,486.3 1256.0,485.9 1258.0,485.5 1260.0,485.1 1262.0,484.8 1264.0,484.4 1266.0,484.1 1268.0,483.7 1270.0,483.4 1272.0,483.0 1274.0,482.7 1276.0,482.3 1278.0,482.0 1280.0,481.6 1282.0,481.2 1284.0,480.8 1286.0,480.4 1288.0,480.0 1290.0,479.6 1292.0,479.2 1294.0,478.7 1296.0,478.3 1298.0,477.9 1300.0,477.5 1302.0,477.1 1304.1,476.7 1306.1,476.2 1308.2,475.8 1310.2,475.4 1312.2,475.0 1314.3,474.5 1316.3,474.1 1318.3,473.7 1320.4,473.3 1322.4,472.8 1324.5,472.4 1326.5,472.0 1328.5,471.6 1330.6,471.2 1332.6,470.8 1334.7,470.5 1336.7,470.1 1338.8,469.7 1340.8,469.4 1342.9,469.0 1345.0,468.7 1347.0,468.3 1349.1,468.0 1351.2,467.7 1353.3,467.3 1355.3,467.0 1357.4,466.7 1359.5,466.3 1361.5,466.0 1363.6,465.7 1365.7,465.4 1367.7,465.1 1369.8,464.8 1371.9,464.5 1373.9,464.1 1376.0,463.8 1378.1,463.5 1380.2,463.2 1382.2,462.9 1384.3,462.6 1386.4,462.2 1388.4,461.9 1390.5,461.6 1392.5,460.9 1394.5,460.2 1396.5,459.5 1398.5,458.8 1400.5,458.1 1402.5,457.3 1404.5,456.6 1406.5,455.9 1408.5,455.1 1410.5,454.4 1412.5,453.6 1414.5,452.9 1416.5,452.1 1418.5,451.4 1420.5,450.6 1422.5,449.9 1424.5,449.1 1426.5,448.3 1428.5,447.6 1430.5,446.8 1432.5,446.1 1434.5,445.3 1436.5,444.5 1438.5,443.8 1440.5,443.0 1442.5,442.2 1444.5,441.5 1446.5,440.7 1448.5,440.0 1450.5,439.2 1452.5,438.5 1454.5,437.7 1456.5,437.0 1458.5,436.2 1460.5,435.5 1462.5,434.7 1464.5,434.0 1466.5,433.3 1468.5,432.5 1470.5,431.8 1472.5,431.1 1474.5,430.4 1476.5,429.7 1478.5,429.0 1480.5,428.3 1482.5,427.6 1484.5,426.9 1486.5,426.3 1488.5,425.6 1490.5,424.9 1492.5,424.3 1494.5,423.6 1496.5,423.0 1498.5,422.4 1500.5,421.8 1502.5,421.2 1504.5,420.6 1506.5,420.0 1508.5,419.4 1510.5,418.8 1512.5,418.3 1514.5,417.7 1516.5,417.2 1518.5,416.7 1520.5,416.2 1522.5,415.7 1524.5,415.2 1526.5,414.7 1528.5,414.3 1530.5,413.8 1532.5,413.4 1534.5,413.0 1536.5,412.6 1538.5,412.2 1540.5,411.8 1542.5,411.5 1544.5,411.1 1546.4,410.8 1548.4,409.3 1550.4,407.8 1552.4,406.3 1554.4,404.8 1556.4,403.3 1558.4,401.8 1560.4,400.3 1562.4,398.8 1564.4,397.3 1566.4,395.8 1568.4,394.4 1570.4,392.9 1572.4,391.4 1574.4,390.0 1576.4,388.5 1578.4,387.1 1580.4,385.7 1582.4,384.3 1584.4,382.8 1586.4,381.4 1588.4,380.0 1590.4,378.7 1592.4,377.3 1594.4,375.9 1596.4,374.6 1598.4,373.2 1600.4,371.9 1602.4,370.6 1604.4,369.2 1606.4,368.0 1608.4,366.7 1610.4,365.4 1612.4,364.1 1614.4,362.9 1616.4,361.7 1618.4,360.5 1620.4,359.2 1622.4,358.1 1624.4,356.9 1626.4,355.7 1628.4,354.6 1630.4,353.4 1632.4,352.3 1634.4,351.2 1636.4,350.1 1638.4,349.0 1640.4,347.9 1642.4,346.8 1644.4,345.8 1646.4,344.7 1648.4,343.7 1650.4,342.7 1652.4,341.7 1654.4,340.7 1656.4,339.7 1658.4,338.8 1660.4,337.8 1662.4,336.9 1664.4,335.9 1666.4,335.0 1668.4,334.1 1670.4,333.2 1672.4,332.3 1674.4,331.4 1676.4,330.6 1678.4,329.7 1680.4,328.9 1682.4,328.1 1684.4,327.2 1686.4,326.4 1688.4,325.6 1690.4,324.9 1692.4,324.1 1694.4,323.3 1696.4,322.6 1698.4,321.9 1700.4,321.1 1702.4,320.4 1704.4,319.7 1706.4,319.0 1708.4,318.3 1710.4,317.7 1712.4,317.0 1714.4,316.3 1716.4,315.7 1718.4,315.1 1720.4,314.4 1722.4,313.8 1724.4,313.2 1726.4,312.6 1728.4,312.0 1730.4,311.4 1732.4,310.9 1734.4,310.3 1736.4,309.7 1738.4,309.2 1740.4,308.6 1742.4,308.1 1744.4,307.6 1746.4,307.0 1748.4,306.5 1750.4,306.0 1752.4,305.5 1754.4,305.0 1756.4,304.5 1758.4,304.0 1760.4,303.5 1762.4,303.0 1764.4,302.5 1766.4,302.0 1768.4,301.6 1770.4,301.1 1772.4,300.6 1774.4,300.2 1776.4,299.7 1778.4,299.2 1780.4,298.8 1782.4,298.3 1784.4,297.9 1786.4,297.4 1788.4,297.0 1790.4,296.5 1792.4,296.1 1794.4,295.6 1796.4,295.2 1798.4,294.7 1800.4,294.3 1802.4,293.8 1803.8,293.5 2504.5,293.5"/>
<text x="328" y="91.3" font-family="Liberation Sans, sans-serif" font-size="24" font-weight="bold" fill="#000" textLength="412" lengthAdjust="spacingAndGlyphs">Latency by Percentile Distribution</text>
<text x="303" y="146.75" font-family="Liberation Sans, sans-serif" font-size="24" fill="#222" text-anchor="end" transform="translate(303,0) scale(1.06,1) translate(-303,0)">50</text>
<text x="303" y="235.50" font-family="Liberation Sans, sans-serif" font-size="24" fill="#222" text-anchor="end" transform="translate(303,0) scale(1.06,1) translate(-303,0)">40</text>
<text x="303" y="323.65" font-family="Liberation Sans, sans-serif" font-size="24" fill="#222" text-anchor="end" transform="translate(303,0) scale(1.06,1) translate(-303,0)">30</text>
<text x="303" y="413.65" font-family="Liberation Sans, sans-serif" font-size="24" fill="#222" text-anchor="end" transform="translate(303,0) scale(1.06,1) translate(-303,0)">20</text>
<text x="303" y="502.20" font-family="Liberation Sans, sans-serif" font-size="24" fill="#222" text-anchor="end" transform="translate(303,0) scale(1.06,1) translate(-303,0)">10</text>
<text x="303" y="590.65" font-family="Liberation Sans, sans-serif" font-size="24" fill="#222" text-anchor="end" transform="translate(303,0) scale(1.06,1) translate(-303,0)">0</text>
<text x="329.17" y="619.5" font-family="Liberation Sans, sans-serif" font-size="24" fill="#222" text-anchor="middle" transform="translate(329.17,0) scale(1.06,1) translate(-329.17,0)">0%</text>
<text x="692.4" y="619.5" font-family="Liberation Sans, sans-serif" font-size="24" fill="#222" text-anchor="middle" transform="translate(692.4,0) scale(1.06,1) translate(-692.4,0)">90%</text>
<text x="1054.03" y="619.5" font-family="Liberation Sans, sans-serif" font-size="24" fill="#222" text-anchor="middle" transform="translate(1054.03,0) scale(1.06,1) translate(-1054.03,0)">99%</text>
<text x="1416.95" y="619.5" font-family="Liberation Sans, sans-serif" font-size="24" fill="#222" text-anchor="middle" transform="translate(1416.95,0) scale(1.06,1) translate(-1416.95,0)">99.9%</text>
<text x="1778.54" y="619.5" font-family="Liberation Sans, sans-serif" font-size="24" fill="#222" text-anchor="middle" transform="translate(1778.54,0) scale(1.06,1) translate(-1778.54,0)">99.99%</text>
<text x="2141.7" y="619.5" font-family="Liberation Sans, sans-serif" font-size="24" fill="#222" text-anchor="middle" transform="translate(2141.7,0) scale(1.06,1) translate(-2141.7,0)">99.999%</text>
<text x="2504.5" y="619.5" font-family="Liberation Sans, sans-serif" font-size="24" fill="#222" text-anchor="middle" transform="translate(2504.5,0) scale(1.06,1) translate(-2504.5,0)">99.9999%</text>
<text x="1417" y="660" font-family="Liberation Sans, sans-serif" font-size="24" font-style="italic" fill="#222" text-anchor="middle" transform="translate(1417,0) scale(1.06,1) translate(-1417,0)">Percentile</text>
<text x="0" y="0" font-family="Liberation Sans, sans-serif" font-size="24" font-style="italic" fill="#222" text-anchor="middle" transform="translate(145,360) rotate(-90) scale(1.06,1)">Latency (milliseconds)</text>
<line x1="480.3" y1="692" x2="530.9" y2="692" stroke="#0a55cc" stroke-width="3"/>
<text x="541" y="700.5" font-family="Liberation Sans, sans-serif" font-size="24" fill="#222" transform="translate(541,0) scale(1.065,1) translate(-541,0)">App+Envoy+OPA_envoy_grpc</text>
<line x1="926.2" y1="692" x2="976.1" y2="692" stroke="#d40000" stroke-width="3"/>
<text x="986.4" y="700.5" font-family="Liberation Sans, sans-serif" font-size="24" fill="#222" transform="translate(986.4,0) scale(1.065,1) translate(-986.4,0)">App+Envoy+OPA_google_grpc</text>
<line x1="1380.4" y1="692" x2="1430.8" y2="692" stroke="#ff9500" stroke-width="3"/>
<text x="1441.1" y="700.5" font-family="Liberation Sans, sans-serif" font-size="24" fill="#222" transform="translate(1441.1,0) scale(1.065,1) translate(-1441.1,0)">App+Envoy+OPA_nop_envoy_grpc</text>
<line x1="1882.9" y1="692" x2="1933.4" y2="692" stroke="#009a00" stroke-width="3"/>
<text x="1943" y="700.5" font-family="Liberation Sans, sans-serif" font-size="24" fill="#222" transform="translate(1943,0) scale(1.065,1) translate(-1943,0)">App+Envoy+OPA_nop_google_grpc</text>
</svg>
</body></html>
